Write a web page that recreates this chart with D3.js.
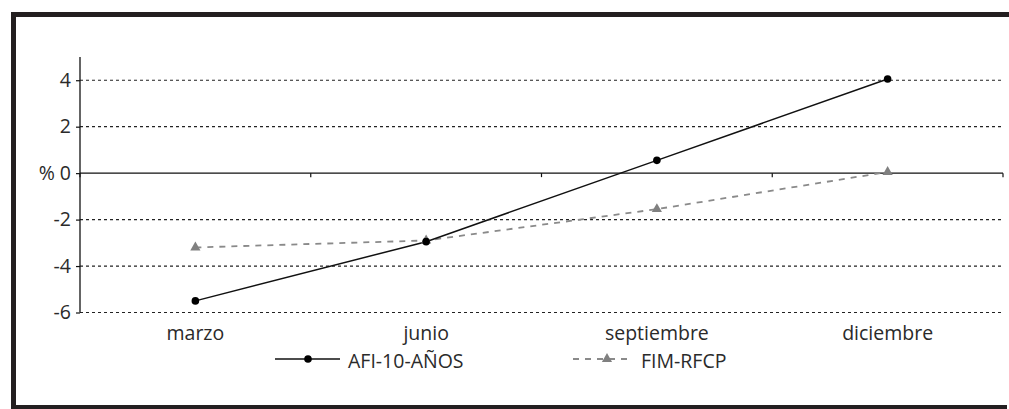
<!DOCTYPE html>
<html><head><meta charset="utf-8">
<script src="https://cdn.jsdelivr.net/npm/d3@7"></script>
<style>body{margin:0;background:#fff}svg{display:block}text{font-family:"Open Sans","Noto Sans",sans-serif;fill:#2a2a2a}</style>
</head><body>
<script>
const categories = ["marzo","junio","septiembre","diciembre"];
const afi = [-5.5, -2.95, 0.55, 4.05];
const fim = [-3.2, -2.9, -1.55, 0.05];
const yTicks = [-6,-4,-2,0,2,4];
const seriesNames = ["AFI-10-AÑOS","FIM-RFCP"];

const W=1009,H=409,FS=19.5;
const svg=d3.select("body").append("svg").attr("width",W).attr("height",H);
// frame
svg.append("path").attr("d","M1009,14.5 H13.5 V407.5 H1007").attr("fill","none").attr("stroke","#231f20").attr("stroke-width",5);

const x=d3.scaleBand().domain(categories).range([80,1003]);
const y=d3.scaleLinear().domain([-6,5]).range([312.5,57]);

// grid
yTicks.filter(v=>v!==0).forEach(v=>{
  svg.append("line").attr("x1",80).attr("x2",1003).attr("y1",y(v)).attr("y2",y(v))
    .attr("stroke","#222").attr("stroke-width",1.2).attr("stroke-dasharray","3,3");
});
// y axis
const ya=svg.append("g").attr("transform","translate(80,0)").call(d3.axisLeft(y).tickValues(yTicks).tickSize(4).tickFormat(d=>d===0?"% 0":String(d)));
ya.select(".domain").attr("stroke","#111").attr("stroke-width",1.3).attr("d",`M0,${y(5)}V${y(-6)}`);
ya.selectAll(".tick line").attr("stroke","#111").attr("stroke-width",1.2);
ya.selectAll(".tick text").attr("font-size",FS).attr("x",-9).style("fill","#2a2a2a").attr("font-family","'Open Sans',sans-serif");
// x zero line with ticks
const xa=svg.append("g").attr("transform",`translate(0,${y(0)})`).call(d3.axisBottom(x).tickSize(0).tickFormat(""));
xa.select(".domain").attr("stroke","#111").attr("stroke-width",1.3).attr("d","M80,0H1003");
const bounds=[80,...categories.map(c=>x(c)+x.bandwidth())];
bounds.forEach(b=>svg.append("line").attr("x1",b).attr("x2",b).attr("y1",y(0)).attr("y2",y(0)+4).attr("stroke","#111").attr("stroke-width",1.2));
// category labels
categories.forEach(c=>svg.append("text").attr("x",x(c)+x.bandwidth()/2).attr("y",340).attr("text-anchor","middle").attr("font-size",FS).text(c));

const cx=c=>x(c)+x.bandwidth()/2;
const line=d3.line().x((d,i)=>cx(categories[i])).y(d=>y(d));
svg.append("path").datum(fim).attr("d",line).attr("fill","none").attr("stroke","#8a8a8a").attr("stroke-width",1.8).attr("stroke-dasharray","6,6");
svg.append("path").datum(afi).attr("d",line).attr("fill","none").attr("stroke","#111").attr("stroke-width",1.5);
const tri=d3.symbol().type(d3.symbolTriangle).size(45);
fim.forEach((v,i)=>svg.append("path").attr("d",tri).attr("transform",`translate(${cx(categories[i])},${y(v)})`).attr("fill","#808080"));
afi.forEach((v,i)=>svg.append("circle").attr("cx",cx(categories[i])).attr("cy",y(v)).attr("r",3.8).attr("fill","#000"));

// legend
const ly=359;
svg.append("line").attr("x1",275).attr("x2",340).attr("y1",ly).attr("y2",ly).attr("stroke","#111").attr("stroke-width",1.5);
svg.append("circle").attr("cx",308).attr("cy",ly).attr("r",3.8).attr("fill","#000");
svg.append("text").attr("x",348).attr("y",368).attr("font-size",FS).text(seriesNames[0]);
svg.append("line").attr("x1",573).attr("x2",633).attr("y1",ly).attr("y2",ly).attr("stroke","#8a8a8a").attr("stroke-width",1.8).attr("stroke-dasharray","6,6");
svg.append("path").attr("d",tri).attr("transform",`translate(607,${ly})`).attr("fill","#808080");
svg.append("text").attr("x",641).attr("y",368).attr("font-size",FS).text(seriesNames[1]);
</script>
</body></html>
